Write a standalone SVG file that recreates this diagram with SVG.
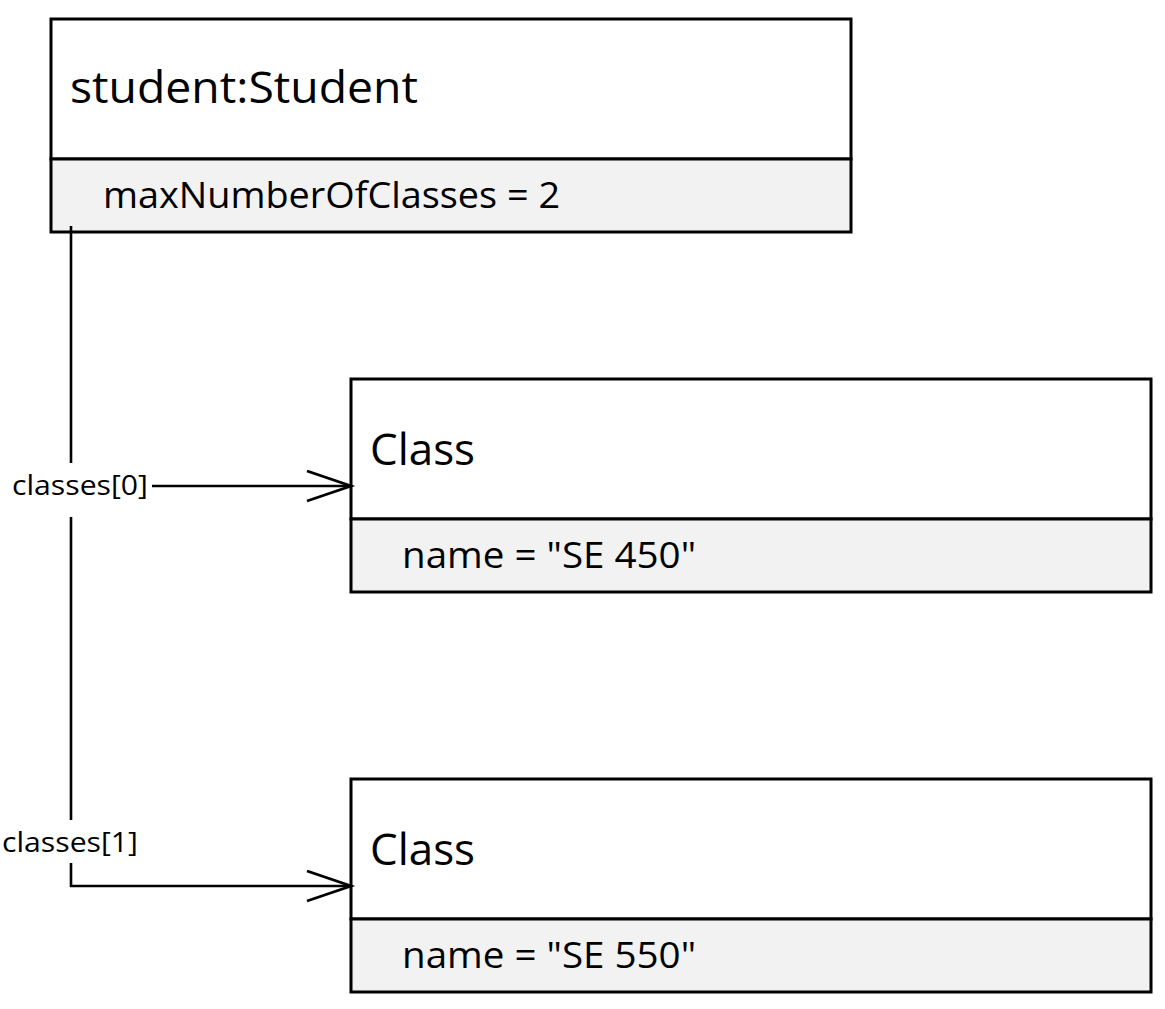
<svg xmlns="http://www.w3.org/2000/svg" width="1165" height="1009" viewBox="0 0 1165 1009">
<style>
.box{fill:#ffffff;stroke:#000;stroke-width:3}
.cmp{fill:#f2f2f2;stroke:#000;stroke-width:3}
.t{font-family:"Open Sans","Liberation Sans",Arial,sans-serif;fill:#000}
.title{font-size:44px}
.attr{font-size:36px}
.lbl{font-size:28px}
.ln{fill:none;stroke:#000;stroke-width:2.6}
</style>
<defs>
<marker id="open" markerWidth="50" markerHeight="34" refX="45" refY="16" orient="auto" markerUnits="userSpaceOnUse">
<path d="M1,1 L45,16 L1,31" fill="none" stroke="#000" stroke-width="2.8"/>
</marker>
</defs>
<rect x="0" y="0" width="1165" height="1009" fill="#ffffff"/>
<g id="student">
<rect class="box" x="51" y="19" width="800" height="140"/>
<rect class="cmp" x="51" y="159" width="800" height="73"/>
<text class="t title" x="70" y="103" textLength="348" lengthAdjust="spacingAndGlyphs">student:Student</text>
<text class="t attr" x="103" y="208" textLength="457" lengthAdjust="spacingAndGlyphs">maxNumberOfClasses = 2</text>
</g>
<g id="class1">
<rect class="box" x="351" y="379" width="800" height="140"/>
<rect class="cmp" x="351" y="519" width="800" height="73"/>
<text class="t title" x="370" y="465" textLength="105" lengthAdjust="spacingAndGlyphs">Class</text>
<text class="t attr" x="402" y="568" textLength="294" lengthAdjust="spacingAndGlyphs">name = "SE 450"</text>
</g>
<g id="class2">
<rect class="box" x="351" y="779" width="800" height="140"/>
<rect class="cmp" x="351" y="919" width="800" height="73"/>
<text class="t title" x="370" y="865" textLength="105" lengthAdjust="spacingAndGlyphs">Class</text>
<text class="t attr" x="402" y="968" textLength="294" lengthAdjust="spacingAndGlyphs">name = "SE 550"</text>
</g>
<g id="connectors">
<path class="ln" d="M71,226 V463"/>
<path class="ln" d="M71,517 V820"/>
<path class="ln" d="M152,486 H351" marker-end="url(#open)"/>
<path class="ln" d="M71,863 V886 H351" marker-end="url(#open)"/>
<text class="t lbl" x="12" y="495" textLength="136" lengthAdjust="spacingAndGlyphs">classes[0]</text>
<text class="t lbl" x="2" y="852" textLength="136" lengthAdjust="spacingAndGlyphs">classes[1]</text>
</g>
</svg>
